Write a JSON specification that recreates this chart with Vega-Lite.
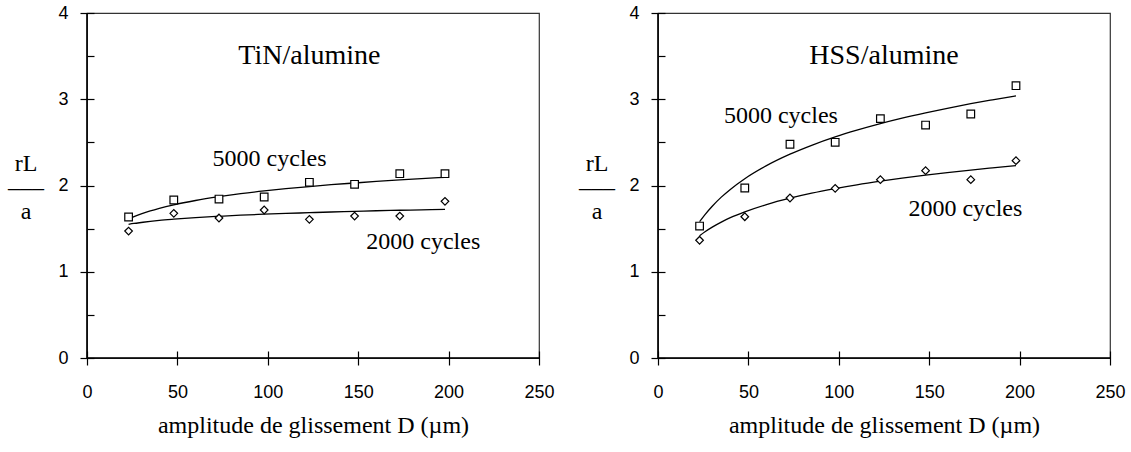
{
  "$schema": "https://vega.github.io/schema/vega-lite/v6.json",
  "padding": {"left": 6, "top": 3, "right": 4, "bottom": 5},
  "spacing": 22,
  "background": "white",
  "config": {
    "view": {"stroke": "#333333", "strokeWidth": 1.2},
    "axis": {
      "grid": false, "domain": false, "ticks": true,
      "tickColor": "black", "tickWidth": 1.2,
      "labelFont": "Liberation Sans", "labelFontSize": 18, "labelColor": "black",
      "titleFont": "Liberation Serif", "titleFontWeight": "normal", "titleColor": "black"
    },
    "text": {"font": "Liberation Serif", "color": "black"}
  },
  "datasets": {
    "points": [
      {"panel": "TiN", "series": "5000", "D": 23, "r": 1.635},
      {"panel": "TiN", "series": "5000", "D": 48, "r": 1.832},
      {"panel": "TiN", "series": "5000", "D": 73, "r": 1.843},
      {"panel": "TiN", "series": "5000", "D": 98, "r": 1.867},
      {"panel": "TiN", "series": "5000", "D": 123, "r": 2.037},
      {"panel": "TiN", "series": "5000", "D": 148, "r": 2.014},
      {"panel": "TiN", "series": "5000", "D": 173, "r": 2.137},
      {"panel": "TiN", "series": "5000", "D": 198, "r": 2.137},
      {"panel": "TiN", "series": "2000", "D": 23, "r": 1.472},
      {"panel": "TiN", "series": "2000", "D": 48, "r": 1.677},
      {"panel": "TiN", "series": "2000", "D": 73, "r": 1.623},
      {"panel": "TiN", "series": "2000", "D": 98, "r": 1.716},
      {"panel": "TiN", "series": "2000", "D": 123, "r": 1.608},
      {"panel": "TiN", "series": "2000", "D": 148, "r": 1.646},
      {"panel": "TiN", "series": "2000", "D": 173, "r": 1.646},
      {"panel": "TiN", "series": "2000", "D": 198, "r": 1.817},
      {"panel": "HSS", "series": "5000", "D": 23, "r": 1.530},
      {"panel": "HSS", "series": "5000", "D": 48, "r": 1.971},
      {"panel": "HSS", "series": "5000", "D": 73, "r": 2.478},
      {"panel": "HSS", "series": "5000", "D": 98, "r": 2.501},
      {"panel": "HSS", "series": "5000", "D": 123, "r": 2.775},
      {"panel": "HSS", "series": "5000", "D": 148, "r": 2.701},
      {"panel": "HSS", "series": "5000", "D": 173, "r": 2.829},
      {"panel": "HSS", "series": "5000", "D": 198, "r": 3.157},
      {"panel": "HSS", "series": "2000", "D": 23, "r": 1.365},
      {"panel": "HSS", "series": "2000", "D": 48, "r": 1.638},
      {"panel": "HSS", "series": "2000", "D": 73, "r": 1.855},
      {"panel": "HSS", "series": "2000", "D": 98, "r": 1.967},
      {"panel": "HSS", "series": "2000", "D": 123, "r": 2.068},
      {"panel": "HSS", "series": "2000", "D": 148, "r": 2.172},
      {"panel": "HSS", "series": "2000", "D": 173, "r": 2.068},
      {"panel": "HSS", "series": "2000", "D": 198, "r": 2.288}
    ],
    "curves": [
      {"panel": "TiN", "series": "5000", "D": 23, "r": 1.610},
      {"panel": "TiN", "series": "5000", "D": 26, "r": 1.638},
      {"panel": "TiN", "series": "5000", "D": 30, "r": 1.670},
      {"panel": "TiN", "series": "5000", "D": 35, "r": 1.705},
      {"panel": "TiN", "series": "5000", "D": 40, "r": 1.735},
      {"panel": "TiN", "series": "5000", "D": 48, "r": 1.776},
      {"panel": "TiN", "series": "5000", "D": 60, "r": 1.826},
      {"panel": "TiN", "series": "5000", "D": 73, "r": 1.870},
      {"panel": "TiN", "series": "5000", "D": 85, "r": 1.905},
      {"panel": "TiN", "series": "5000", "D": 98, "r": 1.937},
      {"panel": "TiN", "series": "5000", "D": 110, "r": 1.963},
      {"panel": "TiN", "series": "5000", "D": 123, "r": 1.988},
      {"panel": "TiN", "series": "5000", "D": 135, "r": 2.009},
      {"panel": "TiN", "series": "5000", "D": 148, "r": 2.029},
      {"panel": "TiN", "series": "5000", "D": 160, "r": 2.047},
      {"panel": "TiN", "series": "5000", "D": 173, "r": 2.065},
      {"panel": "TiN", "series": "5000", "D": 185, "r": 2.080},
      {"panel": "TiN", "series": "5000", "D": 198, "r": 2.095},
      {"panel": "TiN", "series": "2000", "D": 23, "r": 1.550},
      {"panel": "TiN", "series": "2000", "D": 26, "r": 1.560},
      {"panel": "TiN", "series": "2000", "D": 30, "r": 1.571},
      {"panel": "TiN", "series": "2000", "D": 35, "r": 1.584},
      {"panel": "TiN", "series": "2000", "D": 40, "r": 1.595},
      {"panel": "TiN", "series": "2000", "D": 48, "r": 1.609},
      {"panel": "TiN", "series": "2000", "D": 60, "r": 1.627},
      {"panel": "TiN", "series": "2000", "D": 73, "r": 1.643},
      {"panel": "TiN", "series": "2000", "D": 85, "r": 1.656},
      {"panel": "TiN", "series": "2000", "D": 98, "r": 1.667},
      {"panel": "TiN", "series": "2000", "D": 110, "r": 1.676},
      {"panel": "TiN", "series": "2000", "D": 123, "r": 1.685},
      {"panel": "TiN", "series": "2000", "D": 135, "r": 1.693},
      {"panel": "TiN", "series": "2000", "D": 148, "r": 1.700},
      {"panel": "TiN", "series": "2000", "D": 160, "r": 1.707},
      {"panel": "TiN", "series": "2000", "D": 173, "r": 1.713},
      {"panel": "TiN", "series": "2000", "D": 185, "r": 1.718},
      {"panel": "TiN", "series": "2000", "D": 198, "r": 1.724},
      {"panel": "HSS", "series": "5000", "D": 23, "r": 1.580},
      {"panel": "HSS", "series": "5000", "D": 26, "r": 1.663},
      {"panel": "HSS", "series": "5000", "D": 30, "r": 1.760},
      {"panel": "HSS", "series": "5000", "D": 35, "r": 1.865},
      {"panel": "HSS", "series": "5000", "D": 40, "r": 1.955},
      {"panel": "HSS", "series": "5000", "D": 48, "r": 2.079},
      {"panel": "HSS", "series": "5000", "D": 60, "r": 2.230},
      {"panel": "HSS", "series": "5000", "D": 73, "r": 2.363},
      {"panel": "HSS", "series": "5000", "D": 85, "r": 2.466},
      {"panel": "HSS", "series": "5000", "D": 98, "r": 2.563},
      {"panel": "HSS", "series": "5000", "D": 110, "r": 2.641},
      {"panel": "HSS", "series": "5000", "D": 123, "r": 2.717},
      {"panel": "HSS", "series": "5000", "D": 135, "r": 2.780},
      {"panel": "HSS", "series": "5000", "D": 148, "r": 2.842},
      {"panel": "HSS", "series": "5000", "D": 160, "r": 2.895},
      {"panel": "HSS", "series": "5000", "D": 173, "r": 2.948},
      {"panel": "HSS", "series": "5000", "D": 185, "r": 2.993},
      {"panel": "HSS", "series": "5000", "D": 198, "r": 3.040},
      {"panel": "HSS", "series": "2000", "D": 23, "r": 1.418},
      {"panel": "HSS", "series": "2000", "D": 26, "r": 1.464},
      {"panel": "HSS", "series": "2000", "D": 30, "r": 1.518},
      {"panel": "HSS", "series": "2000", "D": 35, "r": 1.576},
      {"panel": "HSS", "series": "2000", "D": 40, "r": 1.627},
      {"panel": "HSS", "series": "2000", "D": 48, "r": 1.695},
      {"panel": "HSS", "series": "2000", "D": 60, "r": 1.779},
      {"panel": "HSS", "series": "2000", "D": 73, "r": 1.853},
      {"panel": "HSS", "series": "2000", "D": 85, "r": 1.911},
      {"panel": "HSS", "series": "2000", "D": 98, "r": 1.964},
      {"panel": "HSS", "series": "2000", "D": 110, "r": 2.008},
      {"panel": "HSS", "series": "2000", "D": 123, "r": 2.050},
      {"panel": "HSS", "series": "2000", "D": 135, "r": 2.085},
      {"panel": "HSS", "series": "2000", "D": 148, "r": 2.120},
      {"panel": "HSS", "series": "2000", "D": 160, "r": 2.149},
      {"panel": "HSS", "series": "2000", "D": 173, "r": 2.179},
      {"panel": "HSS", "series": "2000", "D": 185, "r": 2.204},
      {"panel": "HSS", "series": "2000", "D": 198, "r": 2.230}
    ],
    "labels": [
      {"panel": "TiN", "kind": "material", "label": "TiN/alumine", "D": 123, "r": 3.50},
      {"panel": "TiN", "kind": "series", "label": "5000 cycles", "D": 101, "r": 2.31},
      {"panel": "TiN", "kind": "series", "label": "2000 cycles", "D": 186, "r": 1.345},
      {"panel": "HSS", "kind": "material", "label": "HSS/alumine", "D": 125, "r": 3.50},
      {"panel": "HSS", "kind": "series", "label": "5000 cycles", "D": 68, "r": 2.81},
      {"panel": "HSS", "kind": "series", "label": "2000 cycles", "D": 170, "r": 1.73}
    ],
    "frame": [{"edge": "origin"}]
  },
  "hconcat": [
    {
      "width": 452, "height": 345,
      "layer": [
        {
          "data": {"name": "curves"},
          "transform": [{"filter": "datum.panel === 'TiN'"}],
          "mark": {"type": "line", "color": "black", "strokeWidth": 1.3, "interpolate": "monotone"},
          "encoding": {
            "x": {"field": "D", "type": "quantitative", "scale": {"domain": [0, 250], "nice": false},
              "axis": {"values": [0, 50, 100, 150, 200, 250], "tickSize": 14, "offset": -7, "labelPadding": 18, "labelFlush": false, "labelOverlap": false,
                "title": "amplitude de glissement D (µm)", "titleFontSize": 24, "titlePadding": 12}},
            "y": {"field": "r", "type": "quantitative", "scale": {"domain": [0, 4], "nice": false},
              "axis": {"values": [0, 0.5, 1, 1.5, 2, 2.5, 3, 3.5, 4], "labelExpr": "datum.value % 1 === 0 ? format(datum.value, 'd') : ''",
                "tickSize": {"condition": {"test": "datum.value % 1 !== 0", "value": 7}, "value": 14},
                "offset": -7, "labelPadding": 12, "labelFlush": false, "labelOverlap": false,
                "title": ["rL", "–––", "a"], "titleAngle": 0, "titleFontSize": 24, "titleLineHeight": 24,
                "titleAlign": "center", "titleBaseline": "middle", "titleX": -68.5, "titleY": 150}},
            "detail": {"field": "series"}
          }
        },
        {
          "data": {"name": "frame"},
          "mark": {"type": "rule", "color": "black", "strokeWidth": 1.6},
          "encoding": {"y": {"datum": 0, "type": "quantitative"}}
        },
        {
          "data": {"name": "frame"},
          "mark": {"type": "rule", "color": "black", "strokeWidth": 1.6},
          "encoding": {"x": {"datum": 0, "type": "quantitative"}}
        },
        {
          "data": {"name": "points"},
          "transform": [{"filter": "datum.panel === 'TiN'"}],
          "mark": {"type": "point", "filled": true, "fill": "white", "stroke": "black", "strokeWidth": 1.2, "size": 58, "opacity": 1},
          "encoding": {
            "x": {"field": "D", "type": "quantitative"},
            "y": {"field": "r", "type": "quantitative"},
            "shape": {"field": "series", "type": "nominal", "scale": {"domain": ["5000", "2000"], "range": ["square", "diamond"]}, "legend": null}
          }
        },
        {
          "data": {"name": "labels"},
          "transform": [{"filter": "datum.panel === 'TiN' && datum.kind === 'material'"}],
          "mark": {"type": "text", "fontSize": 28, "align": "center", "baseline": "middle"},
          "encoding": {
            "x": {"field": "D", "type": "quantitative"},
            "y": {"field": "r", "type": "quantitative"},
            "text": {"field": "label"}
          }
        },
        {
          "data": {"name": "labels"},
          "transform": [{"filter": "datum.panel === 'TiN' && datum.kind === 'series'"}],
          "mark": {"type": "text", "fontSize": 24, "align": "center", "baseline": "middle"},
          "encoding": {
            "x": {"field": "D", "type": "quantitative"},
            "y": {"field": "r", "type": "quantitative"},
            "text": {"field": "label"}
          }
        }
      ]
    },
    {
      "width": 452, "height": 345,
      "layer": [
        {
          "data": {"name": "curves"},
          "transform": [{"filter": "datum.panel === 'HSS'"}],
          "mark": {"type": "line", "color": "black", "strokeWidth": 1.3, "interpolate": "monotone"},
          "encoding": {
            "x": {"field": "D", "type": "quantitative", "scale": {"domain": [0, 250], "nice": false},
              "axis": {"values": [0, 50, 100, 150, 200, 250], "tickSize": 14, "offset": -7, "labelPadding": 18, "labelFlush": false, "labelOverlap": false,
                "title": "amplitude de glissement D (µm)", "titleFontSize": 24, "titlePadding": 12}},
            "y": {"field": "r", "type": "quantitative", "scale": {"domain": [0, 4], "nice": false},
              "axis": {"values": [0, 0.5, 1, 1.5, 2, 2.5, 3, 3.5, 4], "labelExpr": "datum.value % 1 === 0 ? format(datum.value, 'd') : ''",
                "tickSize": {"condition": {"test": "datum.value % 1 !== 0", "value": 7}, "value": 14},
                "offset": -7, "labelPadding": 12, "labelFlush": false, "labelOverlap": false,
                "title": ["rL", "–––", "a"], "titleAngle": 0, "titleFontSize": 24, "titleLineHeight": 24,
                "titleAlign": "center", "titleBaseline": "middle", "titleX": -68.5, "titleY": 150}},
            "detail": {"field": "series"}
          }
        },
        {
          "data": {"name": "frame"},
          "mark": {"type": "rule", "color": "black", "strokeWidth": 1.6},
          "encoding": {"y": {"datum": 0, "type": "quantitative"}}
        },
        {
          "data": {"name": "frame"},
          "mark": {"type": "rule", "color": "black", "strokeWidth": 1.6},
          "encoding": {"x": {"datum": 0, "type": "quantitative"}}
        },
        {
          "data": {"name": "points"},
          "transform": [{"filter": "datum.panel === 'HSS'"}],
          "mark": {"type": "point", "filled": true, "fill": "white", "stroke": "black", "strokeWidth": 1.2, "size": 58, "opacity": 1},
          "encoding": {
            "x": {"field": "D", "type": "quantitative"},
            "y": {"field": "r", "type": "quantitative"},
            "shape": {"field": "series", "type": "nominal", "scale": {"domain": ["5000", "2000"], "range": ["square", "diamond"]}, "legend": null}
          }
        },
        {
          "data": {"name": "labels"},
          "transform": [{"filter": "datum.panel === 'HSS' && datum.kind === 'material'"}],
          "mark": {"type": "text", "fontSize": 28, "align": "center", "baseline": "middle"},
          "encoding": {
            "x": {"field": "D", "type": "quantitative"},
            "y": {"field": "r", "type": "quantitative"},
            "text": {"field": "label"}
          }
        },
        {
          "data": {"name": "labels"},
          "transform": [{"filter": "datum.panel === 'HSS' && datum.kind === 'series'"}],
          "mark": {"type": "text", "fontSize": 24, "align": "center", "baseline": "middle"},
          "encoding": {
            "x": {"field": "D", "type": "quantitative"},
            "y": {"field": "r", "type": "quantitative"},
            "text": {"field": "label"}
          }
        }
      ]
    }
  ]
}
